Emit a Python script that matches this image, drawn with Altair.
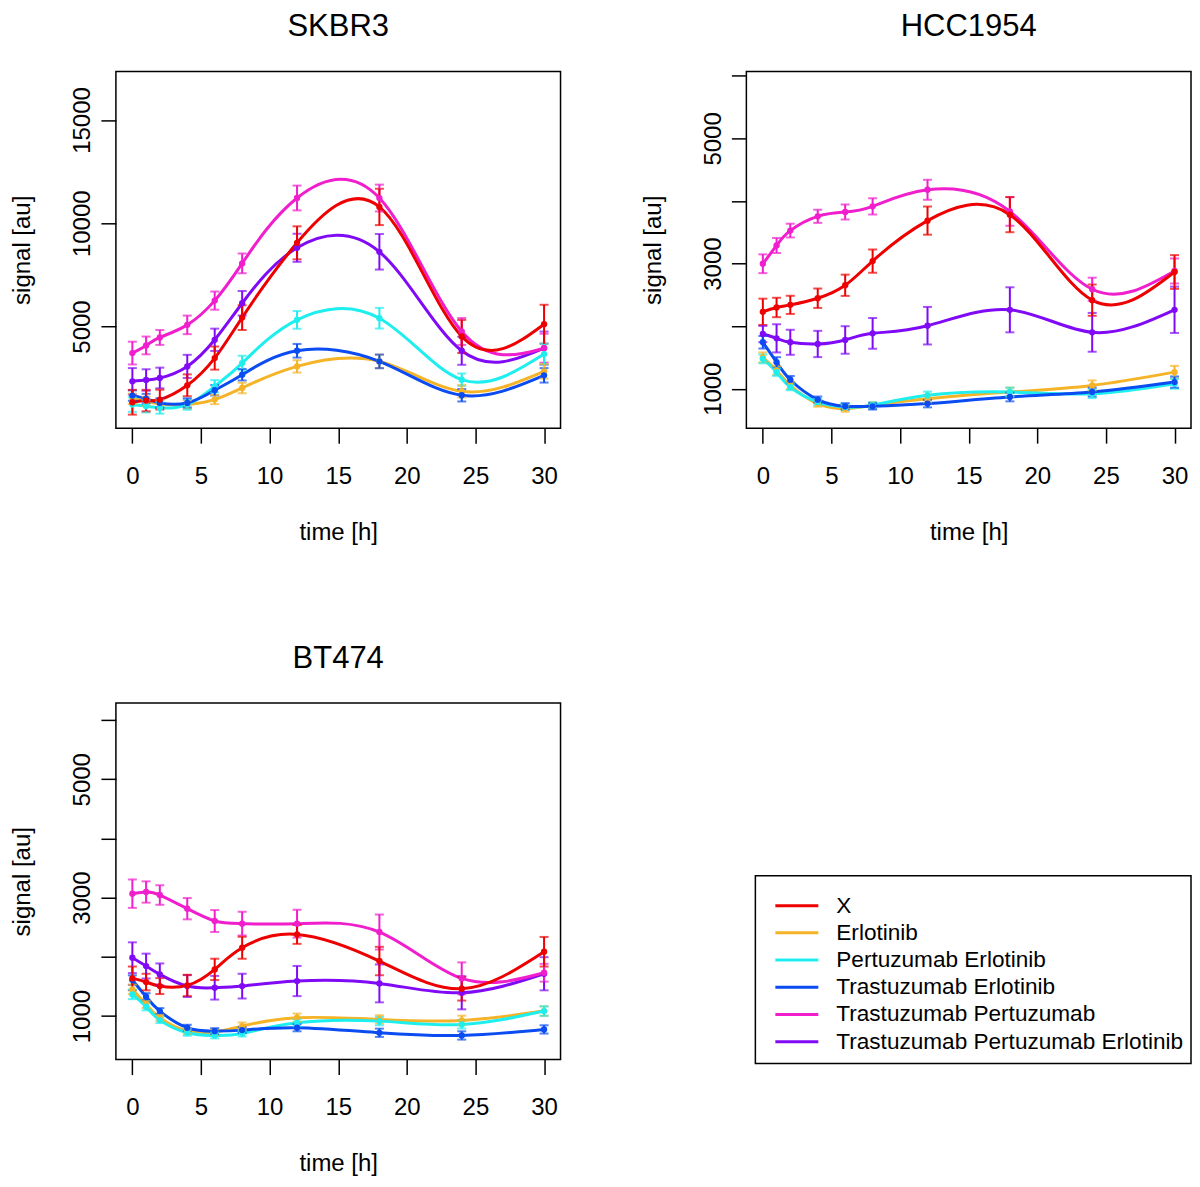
import altair as alt
import pandas as pd

FONT = "Liberation Sans"

times = [0, 1, 2, 4, 6, 8, 12, 18, 24, 30]
treatments = ["X", "Erlotinib", "Pertuzumab Erlotinib", "Trastuzumab Erlotinib",
              "Trastuzumab Pertuzumab", "Trastuzumab Pertuzumab Erlotinib"]
colors = ["#EE0000", "#F5B428", "#1EEEEE", "#0A4CF2", "#F01ECC", "#800AF5"]
# order in which the series are drawn (last on top)
draw_order = ["Trastuzumab Pertuzumab Erlotinib", "Trastuzumab Pertuzumab",
              "Erlotinib", "Pertuzumab Erlotinib", "Trastuzumab Erlotinib", "X"]

skbr3_mean = {
    "X": [1334, 1414, 1462, 2154, 3472, 5434, 9052, 10790, 4520, 5113],
    "Erlotinib": [1500, 1382, 1253, 1221, 1462, 2025, 3070, 3312, 1864, 2830],
    "Pertuzumab Erlotinib": [1221, 1141, 1060, 1221, 2106, 3231, 5322, 5402, 2427, 3665],
    "Trastuzumab Erlotinib": [1655, 1510, 1302, 1302, 1913, 2668, 3826, 3312, 1671, 2636],
    "Trastuzumab Pertuzumab": [3714, 4083, 4470, 5080, 6254, 8055, 11223, 11220, 4760, 3950],
    "Trastuzumab Pertuzumab Erlotinib": [2347, 2411, 2508, 3070, 4357, 6126, 8811, 8618, 3826, 3955],
}
skbr3_err = {
    "X": [600, 520, 480, 530, 560, 600, 800, 880, 800, 940],
    "Erlotinib": [250, 220, 200, 200, 220, 250, 300, 330, 300, 350],
    "Pertuzumab Erlotinib": [350, 300, 280, 250, 300, 350, 430, 500, 300, 500],
    "Trastuzumab Erlotinib": [250, 230, 220, 220, 250, 280, 330, 330, 300, 350],
    "Trastuzumab Pertuzumab": [550, 430, 360, 450, 440, 475, 600, 650, 650, 700],
    "Trastuzumab Pertuzumab Erlotinib": [640, 520, 500, 560, 540, 590, 680, 860, 680, 800],
}

hcc1954_mean = {
    "X": [2229, 2298, 2340, 2446, 2653, 3040, 3686, 3781, 2415, 2865],
    "Erlotinib": [1500, 1290, 1053, 762, 682, 735, 841, 947, 1053, 1265],
    "Pertuzumab Erlotinib": [1477, 1265, 1026, 788, 709, 735, 894, 947, 920, 1080],
    "Trastuzumab Erlotinib": [1742, 1424, 1143, 825, 719, 719, 762, 868, 947, 1106],
    "Trastuzumab Pertuzumab": [2997, 3289, 3527, 3755, 3824, 3914, 4179, 3834, 2589, 2881],
    "Trastuzumab Pertuzumab Erlotinib": [1874, 1805, 1742, 1715, 1779, 1885, 2007, 2261, 1901, 2261],
}
hcc1954_err = {
    "X": [210, 155, 145, 155, 170, 185, 225, 280, 250, 270],
    "Erlotinib": [80, 70, 60, 50, 50, 50, 60, 70, 80, 100],
    "Pertuzumab Erlotinib": [70, 60, 50, 50, 50, 50, 60, 70, 70, 80],
    "Trastuzumab Erlotinib": [100, 80, 60, 50, 50, 50, 60, 70, 70, 90],
    "Trastuzumab Pertuzumab": [150, 120, 110, 105, 120, 130, 160, 230, 185, 200],
    "Trastuzumab Pertuzumab Erlotinib": [130, 225, 200, 210, 220, 245, 300, 360, 310, 370],
}

bt474_mean = {
    "X": [1637, 1575, 1507, 1518, 1789, 2155, 2380, 1930, 1462, 2087],
    "Erlotinib": [1451, 1197, 972, 746, 730, 831, 972, 944, 927, 1085],
    "Pertuzumab Erlotinib": [1366, 1158, 932, 718, 673, 707, 887, 915, 859, 1085],
    "Trastuzumab Erlotinib": [1608, 1327, 1085, 803, 746, 763, 803, 718, 673, 775],
    "Trastuzumab Pertuzumab": [3068, 3096, 3045, 2814, 2606, 2561, 2561, 2420, 1637, 1732],
    "Trastuzumab Pertuzumab Erlotinib": [1986, 1845, 1704, 1507, 1479, 1507, 1592, 1552, 1394, 1715],
}
bt474_err = {
    "X": [200, 140, 135, 180, 180, 185, 160, 240, 200, 250],
    "Erlotinib": [80, 60, 50, 50, 50, 60, 70, 70, 80, 80],
    "Pertuzumab Erlotinib": [80, 60, 50, 50, 50, 50, 60, 70, 70, 80],
    "Trastuzumab Erlotinib": [80, 60, 50, 50, 50, 50, 60, 70, 70, 70],
    "Trastuzumab Pertuzumab": [240, 180, 165, 180, 185, 200, 235, 295, 270, 150],
    "Trastuzumab Pertuzumab Erlotinib": [260, 210, 185, 185, 200, 210, 255, 320, 280, 280],
}

cells = {
    "SKBR3": (skbr3_mean, skbr3_err),
    "HCC1954": (hcc1954_mean, hcc1954_err),
    "BT474": (bt474_mean, bt474_err),
}

rows = []
for cell, (means, errs) in cells.items():
    for tr in draw_order:
        for t, m, e in zip(times, means[tr], errs[tr]):
            rows.append({"cell": cell, "treatment": tr, "time": t, "mean": m, "err": e})
df = pd.DataFrame(rows)

color = alt.Color("treatment:N", scale=alt.Scale(domain=treatments, range=colors), legend=None)

W, H = 445, 357


def panel(cell, ydomain, yticks):
    base = alt.Chart(df).transform_filter(alt.datum.cell == cell)
    xscale = alt.Scale(domain=[-1.2, 31.2], nice=False, zero=False)
    xaxis = alt.Axis(values=[0, 5, 10, 15, 20, 25, 30], format="d", title="time [h]",
                     labelPadding=21, titleX=W / 2, titleY=104, titleAlign="center",
                     titleBaseline="middle", labelFlush=False, labelOverlap=False)
    yscale = alt.Scale(domain=ydomain, nice=False, zero=False)
    yaxis = alt.Axis(values=yticks, title="signal [au]",
                     labelExpr="(datum.value % 2000 == 1000 || datum.value % 5000 == 0) ? format(datum.value, 'd') : ''",
                     labelAngle=270, labelAlign="center", labelBaseline="bottom",
                     labelPadding=6, labelFlush=False, labelOverlap=False,
                     titleAngle=270, titleX=-93, titleY=H / 2, titleAlign="center",
                     titleBaseline="middle")
    x = alt.X("time:Q", scale=xscale, axis=xaxis)
    line = base.mark_line(interpolate="natural", strokeWidth=3, clip=True).encode(
        x=x, y=alt.Y("mean:Q", scale=yscale, axis=yaxis), color=color)
    bars = base.transform_calculate(
        lo="datum.mean - datum.err", hi="datum.mean + datum.err"
    ).mark_errorbar(ticks=True, size=9, thickness=2).encode(
        x=x, y=alt.Y("lo:Q", scale=yscale, axis=yaxis), y2="hi:Q", color=color)
    pts = base.mark_circle(size=40, opacity=1).encode(
        x=x, y=alt.Y("mean:Q", scale=yscale, axis=yaxis), color=color)
    return alt.layer(line, bars, pts).properties(
        width=W, height=H,
        title=alt.TitleParams(cell, fontSize=31, font=FONT, fontWeight="normal",
                              anchor="middle", baseline="alphabetic", offset=4, color="black"),
    )


sk = panel("SKBR3", [80, 17350], [5000, 10000, 15000])
hcc = panel("HCC1954", [370, 6070], [1000, 2000, 3000, 4000, 5000, 6000])
bt = panel("BT474", [265, 6290], [1000, 2000, 3000, 4000, 5000, 6000])

legend_df = pd.DataFrame({"treatment": treatments})
leg_y = alt.Y("treatment:N", sort=treatments, axis=None,
              scale=alt.Scale(range=[182.5, 359.5], padding=0.5))
leg_base = alt.Chart(legend_df)
frame = alt.Chart(pd.DataFrame({"f": [0]})).mark_rect(
    fillOpacity=0, stroke="black", strokeWidth=1.5).encode(
    x=alt.value(9), x2=alt.value(445), y=alt.value(173), y2=alt.value(361))
leg_rules = leg_base.mark_rule(strokeWidth=3).encode(
    x=alt.value(29), x2=alt.value(72), y=leg_y, color=color)
leg_text = leg_base.mark_text(align="left", baseline="middle", fontSize=22.6, font=FONT,
                              color="black").encode(
    x=alt.value(90), y=leg_y, text="treatment:N")
leg = alt.layer(frame, leg_rules, leg_text).properties(
    width=W, height=H, view=alt.ViewBackground(strokeOpacity=0))

chart = alt.concat(sk, hcc, bt, leg, columns=2, spacing={"row": 275, "column": 186},
                   bounds="flush").properties(
    padding={"left": 2, "top": 2, "right": 0, "bottom": 0}
).configure_view(stroke="black", strokeWidth=1.5).configure_axis(
    labelFont=FONT, titleFont=FONT, labelFontSize=24, titleFontSize=24,
    titleFontWeight="normal", labelColor="black", titleColor="black",
    tickColor="black", tickWidth=1.5, tickSize=15, domain=False, grid=False
)

chart.save("out.html", embed_options={"renderer": "svg", "actions": False})
